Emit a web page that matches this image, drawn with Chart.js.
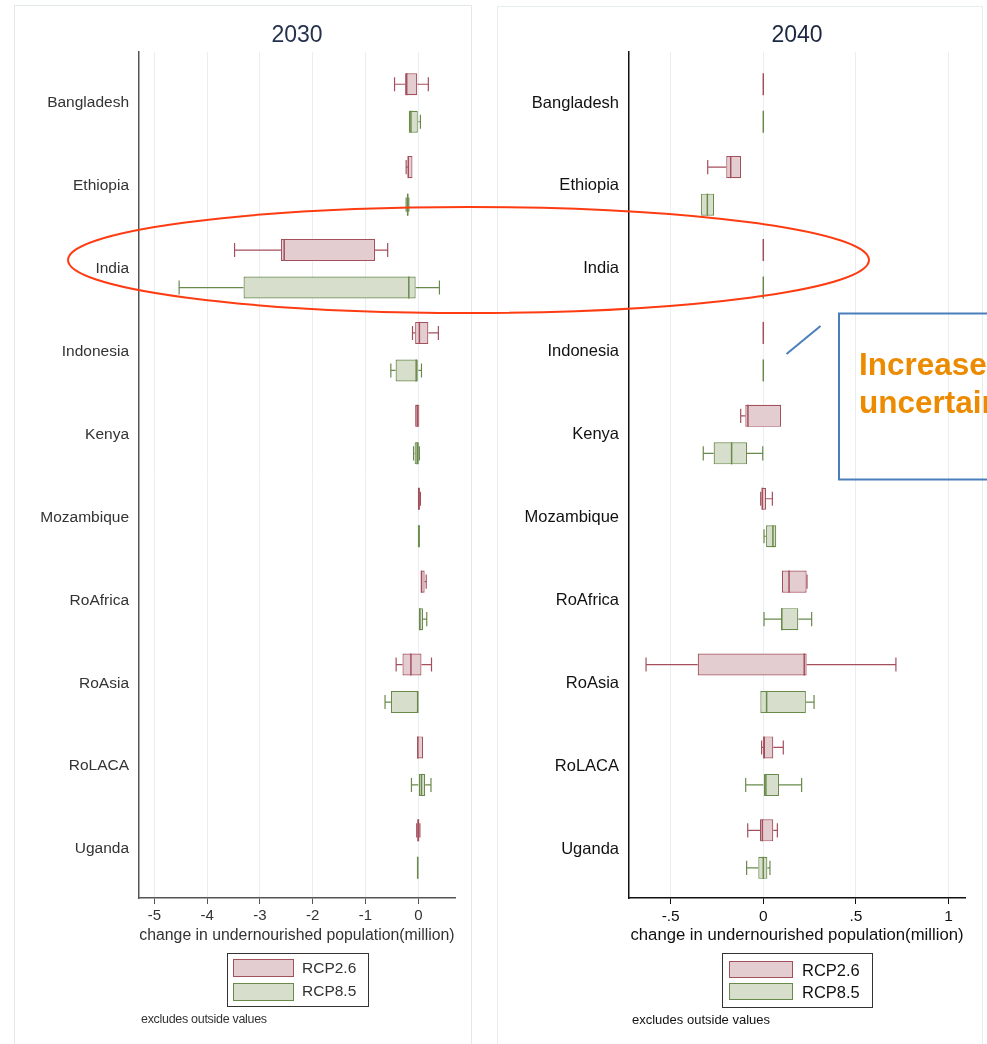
<!DOCTYPE html>
<html>
<head>
<meta charset="utf-8">
<title>Change in undernourished population, 2030 and 2040</title>
<script src="https://cdn.jsdelivr.net/npm/chart.js@4.4.1/dist/chart.umd.min.js"></script>
<style>
  html, body { margin: 0; padding: 0; background: #fff; }
  body { position: relative; width: 987px; height: 1044px; overflow: hidden;
         font-family: "Liberation Sans", Arial, sans-serif; }
  .frame { position: absolute; box-sizing: border-box; border: 1.5px solid #e3e8eb; }
  #frame1 { left: 14px; top: 5px; width: 458px; height: 1060px; }
  #frame2 { left: 497px; top: 6px; width: 486px; height: 1060px; border-color: #e7eef0; }
  canvas { position: absolute; top: 0; }
  #c2030 { left: 0; filter: blur(0.45px); }
  #c2040 { left: 490px; }
  .legend { position: absolute; box-sizing: border-box; border: 1.5px solid #333; background: #fff; }
  .sw { position: absolute; box-sizing: border-box; border: 1.5px solid; }
  .lt { position: absolute; white-space: nowrap; line-height: 18px; }
  .note { position: absolute; white-space: nowrap; }
  #notes { position: absolute; left: 0; top: 0; pointer-events: none; }
</style>
</head>
<body>
<div class="frame" id="frame1"></div>
<div class="frame" id="frame2"></div>
<canvas id="c2030" width="490" height="1044"></canvas>
<canvas id="c2040" width="497" height="1044"></canvas>

<!-- legend, 2030 panel -->
<div style="filter: blur(0.45px);">
  <div class="legend" style="left:227px; top:953px; width:142px; height:54px;"></div>
  <div class="sw" id="sw26a" style="left:233px; top:959px; width:61px; height:18px;"></div>
  <div class="sw" id="sw85a" style="left:233px; top:983px; width:61px; height:18px;"></div>
  <div class="lt" id="lt26a" style="left:302px; top:959px; font-size:15.5px; color:#333;"></div>
  <div class="lt" id="lt85a" style="left:302px; top:982px; font-size:15.5px; color:#333;"></div>
  <div class="note" style="left:141px; top:1012px; font-size:12.5px; color:#333; letter-spacing:-0.3px;">excludes outside values</div>
</div>

<!-- legend, 2040 panel -->
<div class="legend" style="left:722px; top:953px; width:151px; height:55px;"></div>
<div class="sw" id="sw26b" style="left:729px; top:961px; width:64px; height:17px;"></div>
<div class="sw" id="sw85b" style="left:729px; top:983px; width:64px; height:17px;"></div>
<div class="lt" id="lt26b" style="left:802px; top:961px; font-size:16.5px; color:#111;"></div>
<div class="lt" id="lt85b" style="left:802px; top:983px; font-size:16.5px; color:#111;"></div>
<div class="note" style="left:632px; top:1012px; font-size:13px; color:#111;">excludes outside values</div>

<svg id="notes" width="987" height="1044" xmlns="http://www.w3.org/2000/svg">
  <ellipse cx="468.5" cy="260" rx="400.5" ry="53" fill="none" stroke="#ff3b12" stroke-width="2"/>
  <rect x="839" y="313.5" width="220" height="166" fill="none" stroke="#4a7ebb" stroke-width="2"/>
  <line x1="786.5" y1="354" x2="820.5" y2="326" stroke="#4a7ebb" stroke-width="2"/>
  <text x="859" y="375" font-family="Liberation Sans, Arial, sans-serif" font-weight="bold" font-size="31.5" fill="#ec8a00">Increased</text>
  <text x="859" y="413" font-family="Liberation Sans, Arial, sans-serif" font-weight="bold" font-size="31.5" fill="#ec8a00">uncertainty</text>
</svg>

<script>
// Regions shown on the category axis, top to bottom
const regions = ['Bangladesh', 'Ethiopia', 'India', 'Indonesia', 'Kenya',
                 'Mozambique', 'RoAfrica', 'RoAsia', 'RoLACA', 'Uganda'];
const scenarios = ['RCP2.6', 'RCP8.5'];
const years = ['2030', '2040'];
const axisTitle = 'change in undernourished population(million)';

// Box summaries per region (million people):
// [lower adjacent value, 25th pct, median, 75th pct, upper adjacent value]
const rcp26_2030 = [
  [-0.45, -0.25, -0.22, -0.02,  0.19],
  [-0.23, -0.20, -0.19, -0.11, -0.11],
  [-3.48, -2.60, -2.54, -0.82, -0.58],
  [-0.11, -0.06,  0.02,  0.19,  0.38],
  [-0.06, -0.06, -0.02,  0.02,  0.02],
  [-0.01, -0.01,  0.01,  0.03,  0.04],
  [ 0.05,  0.05,  0.06,  0.12,  0.15],
  [-0.42, -0.30, -0.14,  0.06,  0.25],
  [-0.02, -0.02, -0.01,  0.09,  0.09],
  [-0.03, -0.02,  0.00,  0.02,  0.03]
];
const rcp85_2030 = [
  [-0.18, -0.18, -0.14,  0.00,  0.04],
  [-0.23, -0.22, -0.20, -0.19, -0.18],
  [-4.53, -3.31, -0.18, -0.05,  0.40],
  [-0.52, -0.43, -0.04,  0.00,  0.06],
  [-0.09, -0.07, -0.02,  0.01,  0.02],
  [-0.01, -0.01,  0.01,  0.03,  0.03],
  [ 0.00,  0.00,  0.03,  0.09,  0.16],
  [-0.63, -0.52, -0.01,  0.00,  0.00],
  [-0.13,  0.00,  0.06,  0.13,  0.24],
  [-0.03, -0.03, -0.01,  0.00,  0.00]
];
const rcp26_2040 = [
  [ 0.000,  0.000,  0.000,  0.000,  0.000],
  [-0.300, -0.200, -0.176, -0.120, -0.120],
  [ 0.000,  0.000,  0.000,  0.000,  0.000],
  [ 0.000,  0.000,  0.000,  0.000,  0.000],
  [-0.122, -0.097, -0.083,  0.096,  0.096],
  [-0.014, -0.009, -0.005,  0.015,  0.049],
  [ 0.101,  0.101,  0.139,  0.234,  0.236],
  [-0.633, -0.354,  0.221,  0.234,  0.716],
  [-0.009,  0.000,  0.003,  0.054,  0.108],
  [-0.084, -0.018, -0.005,  0.054,  0.076]
];
const rcp85_2040 = [
  [ 0.000,  0.000,  0.000,  0.000,  0.000],
  [-0.336, -0.336, -0.302, -0.266, -0.266],
  [ 0.000,  0.000,  0.000,  0.000,  0.000],
  [ 0.000,  0.000,  0.000,  0.000,  0.000],
  [-0.324, -0.268, -0.171, -0.088, -0.003],
  [ 0.004,  0.015,  0.052,  0.070,  0.070],
  [ 0.004,  0.096,  0.100,  0.189,  0.261],
  [-0.016, -0.016,  0.018,  0.230,  0.274],
  [-0.095,  0.000,  0.014,  0.085,  0.207],
  [-0.090, -0.027,  0.000,  0.022,  0.036]
];

// x-axis ticks and their printed labels
const ticks2030 = [-5, -4, -3, -2, -1, 0];
const tickLabels2030 = ['-5', '-4', '-3', '-2', '-1', '0'];
const ticks2040 = [-0.5, 0, 0.5, 1];
const tickLabels2040 = ['-.5', '0', '.5', '1'];

const FONT = "'Liberation Sans', Arial, sans-serif";
const fill26 = '#e3cdd1', line26 = '#a4505c';
const fill85 = '#d7dfcc', line85 = '#6a8a4c';

// Draws whiskers, caps and median lines on top of the floating IQR bars
const boxWhiskers = {
  id: 'boxWhiskers',
  afterDatasetsDraw(chart) {
    const ctx = chart.ctx;
    const xs = chart.scales.x;
    const px = v => xs.getPixelForValue(v);
    chart.data.datasets.forEach((ds, di) => {
      const meta = chart.getDatasetMeta(di);
      if (meta.hidden) return;
      meta.data.forEach((bar, i) => {
        const [lo, q1, med, q3, hi] = ds.stats[i];
        const { y, height } = bar.getProps(['y', 'height'], true);
        const half = height / 2;
        const cap = height * 0.32;
        ctx.save();
        ctx.strokeStyle = ds.borderColor;
        ctx.lineWidth = 1.2;
        ctx.beginPath();
        if (lo < q1) {
          ctx.moveTo(px(lo), y); ctx.lineTo(px(q1), y);
          ctx.moveTo(px(lo), y - cap); ctx.lineTo(px(lo), y + cap);
        }
        if (hi > q3) {
          ctx.moveTo(px(q3), y); ctx.lineTo(px(hi), y);
          ctx.moveTo(px(hi), y - cap); ctx.lineTo(px(hi), y + cap);
        }
        ctx.stroke();
        ctx.lineWidth = 1.5;
        ctx.beginPath();
        ctx.moveTo(px(med), y - half); ctx.lineTo(px(med), y + half);
        ctx.stroke();
        ctx.restore();
      });
    });
  }
};

function boxDataset(label, stats, fill, line) {
  return {
    label,
    stats,
    data: stats.map((s, i) => ({ x: [s[1], s[3]], y: i })),
    backgroundColor: fill,
    borderColor: line,
    borderWidth: 1.2,
    borderSkipped: false,
    categoryPercentage: 0.905,
    barPercentage: 0.587
  };
}

function makePanel(id, p) {
  return new Chart(document.getElementById(id), {
    type: 'bar',
    data: {
      datasets: [
        boxDataset(scenarios[0], p.s26, fill26, line26),
        boxDataset(scenarios[1], p.s85, fill85, line85)
      ]
    },
    options: {
      indexAxis: 'y',
      responsive: false,
      animation: false,
      events: [],
      layout: { padding: { left: 0, right: p.padRight, top: 0, bottom: 86 } },
      plugins: {
        legend: { display: false },
        tooltip: { enabled: false },
        title: {
          display: true, text: p.year, fullSize: false,
          color: p.titleColor,
          font: { family: FONT, size: 23, weight: 'normal', lineHeight: 1.2 },
          padding: { top: 22, bottom: 2.4 }
        }
      },
      scales: {
        x: {
          type: 'linear', position: 'bottom', offset: false,
          min: p.xMin, max: p.xMax, bounds: 'data',
          afterBuildTicks: s => { s.ticks = p.ticks.map(v => ({ value: v })); },
          afterFit: s => { s.height = 60; },
          ticks: {
            callback: (v) => p.tickLabels[p.ticks.indexOf(v)],
            autoSkip: false, maxRotation: 0, padding: 3,
            color: p.textColor, font: { family: FONT, size: p.tickSize }
          },
          grid: { color: '#e8eff2', lineWidth: 1, tickColor: p.axisColor, tickLength: 6, tickWidth: 1 },
          border: { color: p.axisColor, width: 1.5 },
          title: {
            display: true, text: axisTitle, color: p.textColor,
            font: { family: FONT, size: p.axisTitleSize, lineHeight: 1.2 },
            padding: { top: 0, bottom: 12.4 }
          }
        },
        y: {
          type: 'linear', reverse: true, offset: false,
          min: -0.615, max: 9.59, bounds: 'data',
          afterBuildTicks: s => { s.ticks = regions.map((_, i) => ({ value: i })); },
          afterFit: s => { s.width = 139; },
          ticks: {
            callback: (v) => regions[v],
            autoSkip: false, padding: 10,
            color: p.textColor, font: { family: FONT, size: p.labelSize }
          },
          grid: { display: false, drawTicks: false, offset: false },
          border: { color: p.axisColor, width: 1.5 }
        }
      }
    },
    plugins: [boxWhiskers]
  });
}

makePanel('c2030', {
  year: years[0], s26: rcp26_2030, s85: rcp85_2030,
  ticks: ticks2030, tickLabels: tickLabels2030,
  xMin: -5.29, xMax: 0.695, padRight: 35,
  titleColor: '#26324d', textColor: '#333', axisColor: '#555',
  tickSize: 15, labelSize: 15.5, axisTitleSize: 15.8
});

makePanel('c2040', {
  year: years[1], s26: rcp26_2040, s85: rcp85_2040,
  ticks: ticks2040, tickLabels: tickLabels2040,
  xMin: -0.725, xMax: 1.089, padRight: 22,
  titleColor: '#1c2740', textColor: '#111', axisColor: '#111',
  tickSize: 15.5, labelSize: 16.5, axisTitleSize: 16.7
});

// HTML legend swatches and labels
[['sw26a', fill26, line26], ['sw85a', fill85, line85],
 ['sw26b', fill26, line26], ['sw85b', fill85, line85]].forEach(([id, f, l]) => {
  const el = document.getElementById(id);
  el.style.background = f; el.style.borderColor = l;
});
document.getElementById('lt26a').textContent = scenarios[0];
document.getElementById('lt85a').textContent = scenarios[1];
document.getElementById('lt26b').textContent = scenarios[0];
document.getElementById('lt85b').textContent = scenarios[1];
</script>
</body>
</html>
